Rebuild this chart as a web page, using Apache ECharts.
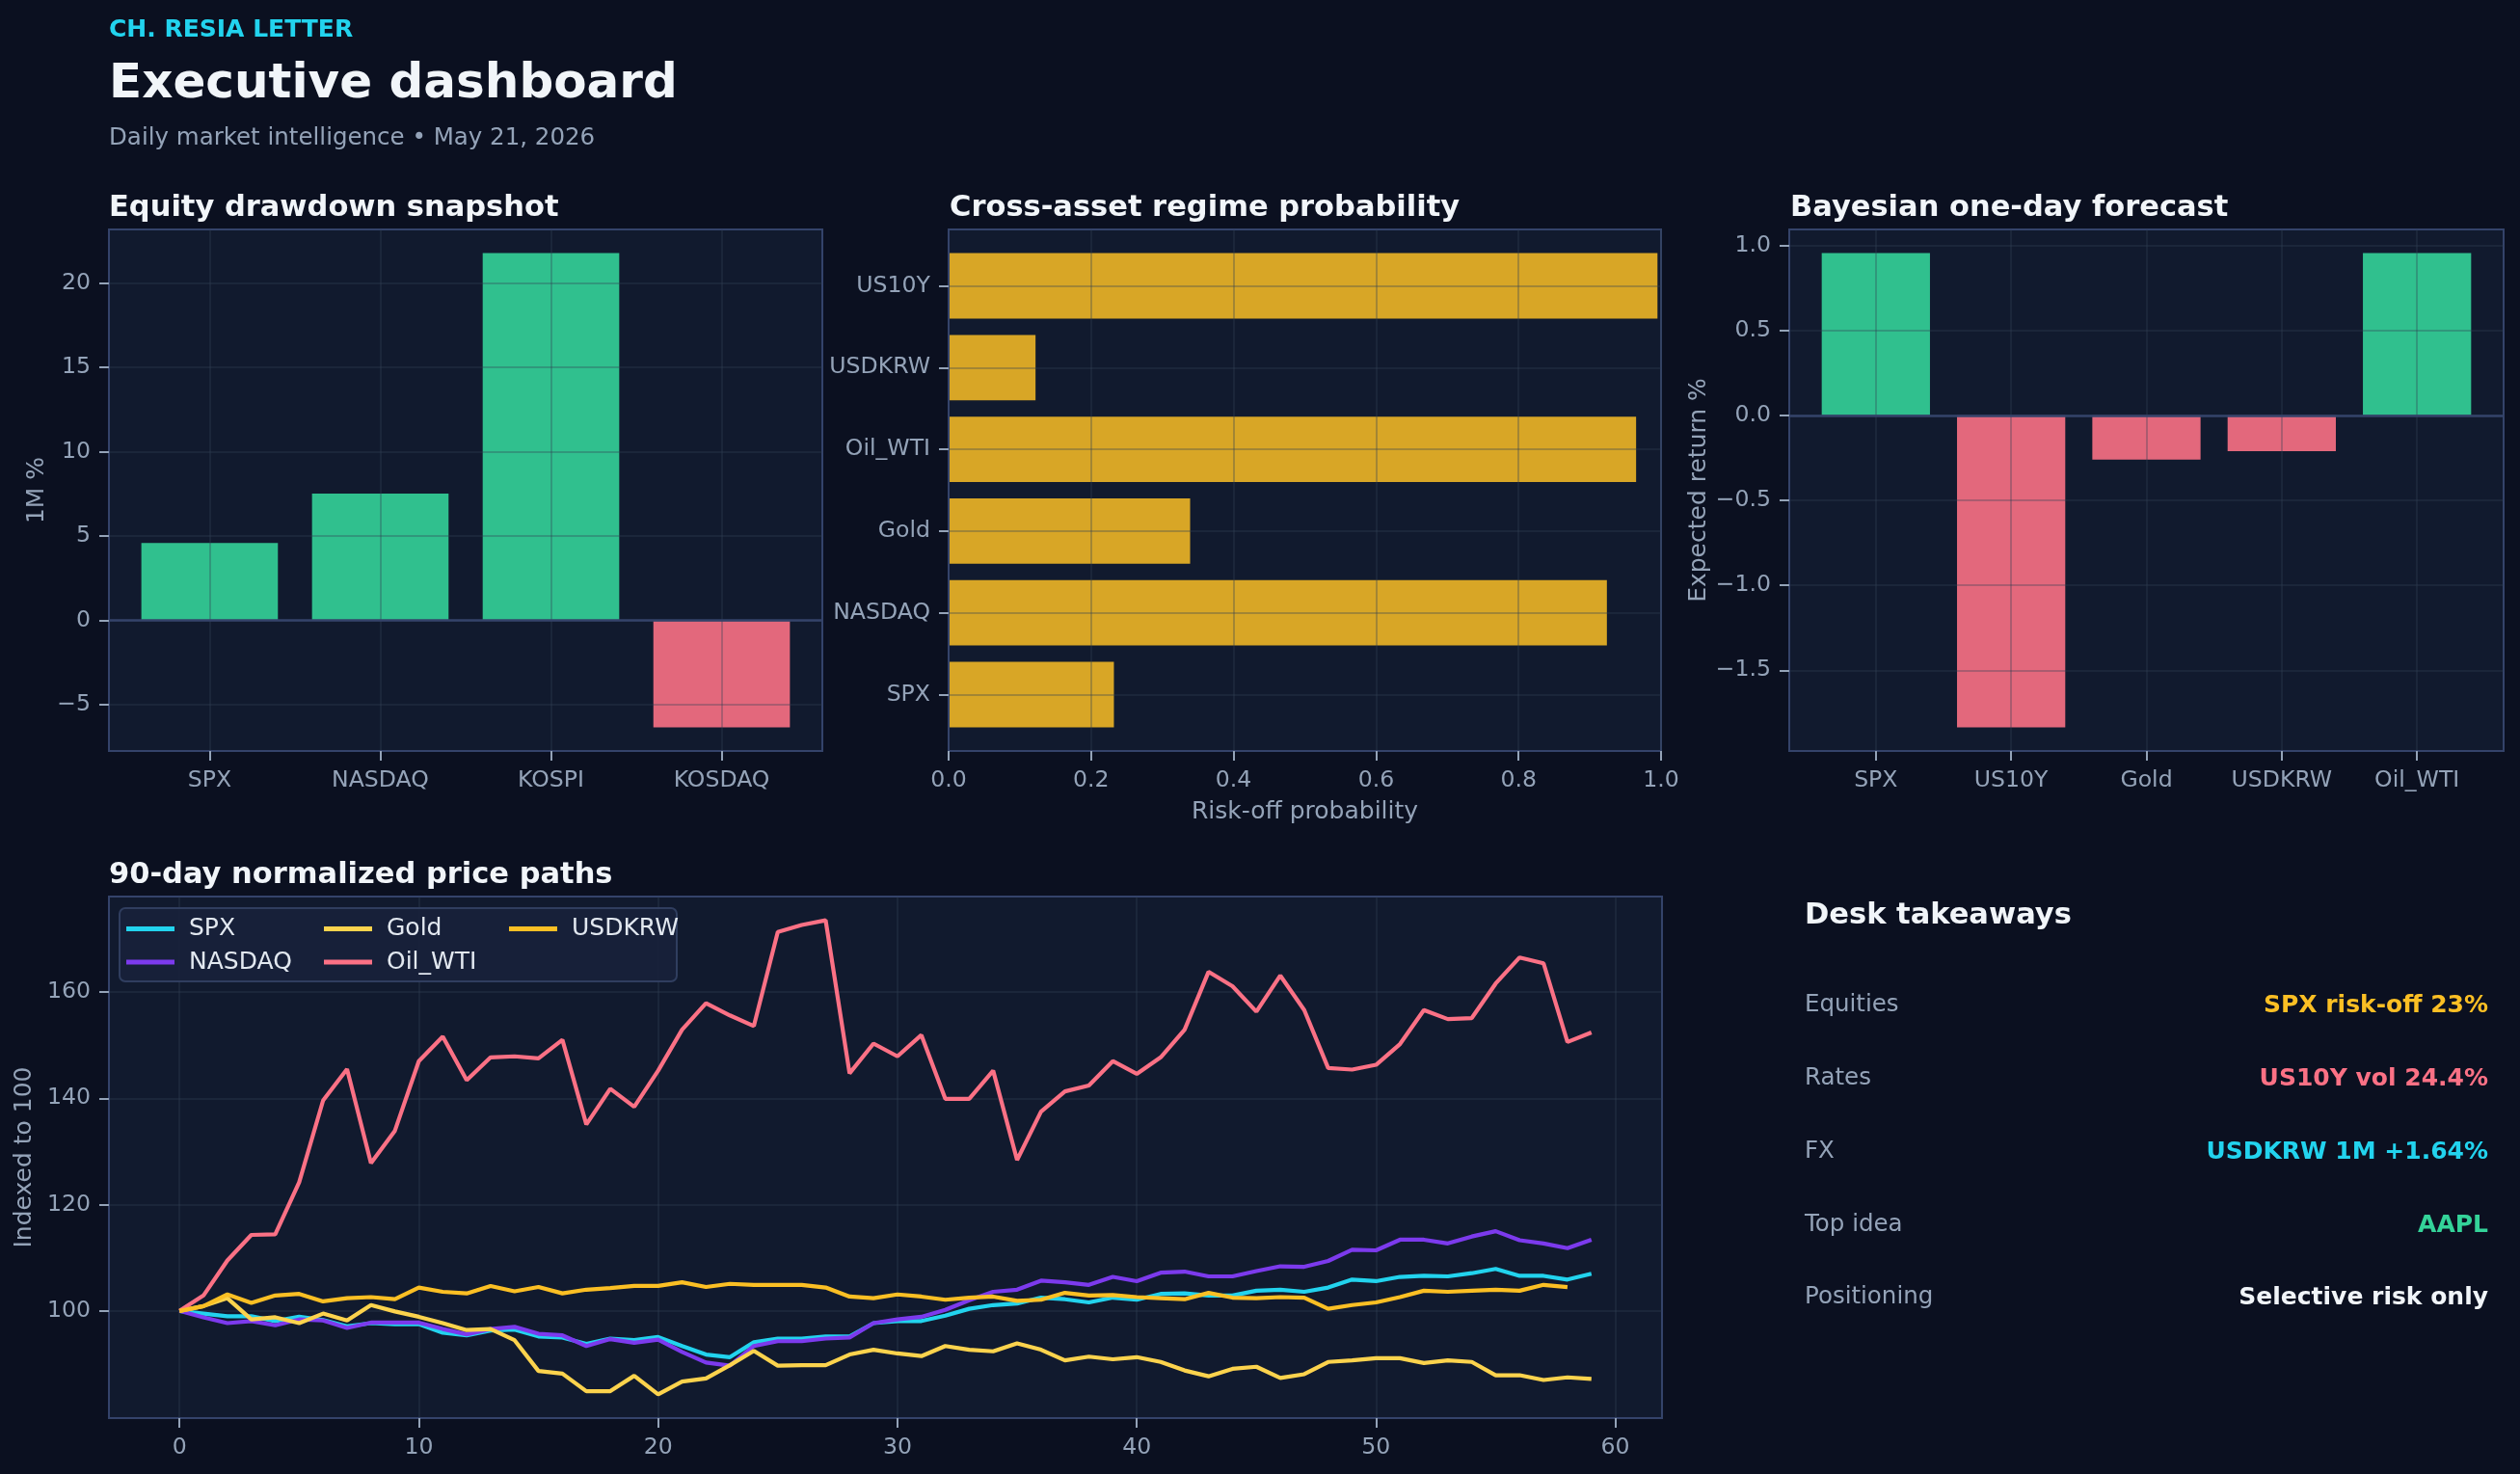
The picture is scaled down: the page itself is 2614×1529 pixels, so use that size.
<!DOCTYPE html>
<html>
<head>
<meta charset="utf-8">
<script src="https://cdn.jsdelivr.net/npm/echarts@6/dist/echarts.min.js"></script>
<style>
html,body{margin:0;padding:0;background:#0b1020;}
#chart{width:2614px;height:1529px;}
</style>
</head>
<body>
<div id="chart"></div>
<script>
// ---------- data ----------
const eqCats = ['SPX', 'NASDAQ', 'KOSPI', 'KOSDAQ'];
const eqVals = [4.59, 7.51, 21.78, -6.35];

const regimeCats = ['SPX', 'NASDAQ', 'Gold', 'Oil_WTI', 'USDKRW', 'US10Y'];
const regimeVals = [0.232, 0.924, 0.339, 0.965, 0.122, 0.995];

const fcCats = ['SPX', 'US10Y', 'Gold', 'USDKRW', 'Oil_WTI'];
const fcVals = [0.954, -1.835, -0.261, -0.211, 0.954];

const pathNames = ['SPX', 'NASDAQ', 'Gold', 'Oil_WTI', 'USDKRW'];
const spxPath = [100,99.5,99.0,99.0,98.1,98.9,98.3,97.1,97.7,97.5,97.5,95.9,95.4,96.3,96.5,95.2,95.0,93.8,94.8,94.5,95.1,93.4,91.8,91.3,94.1,94.8,94.8,95.2,95.2,97.7,98.1,98.1,99.1,100.4,101.1,101.4,102.5,102.2,101.6,102.5,102.1,103.2,103.3,102.9,102.9,103.8,104.0,103.6,104.4,105.9,105.6,106.4,106.6,106.5,107.1,107.9,106.6,106.6,105.9,107.0];
const nasdaqPath = [100,98.8,97.7,98.1,97.3,98.4,98.2,96.8,97.8,97.8,97.8,96.6,95.6,96.6,97.0,95.7,95.4,93.4,94.7,94.0,94.6,92.3,90.3,89.7,93.4,94.3,94.3,94.8,95.0,97.7,98.4,98.9,100.2,102.0,103.6,104.0,105.7,105.4,104.9,106.4,105.6,107.2,107.4,106.5,106.5,107.5,108.4,108.3,109.4,111.5,111.4,113.4,113.4,112.7,114.0,115.0,113.3,112.7,111.8,113.4];
const goldPath = [100,100.9,102.4,98.4,98.8,97.7,99.5,98.2,101.1,99.9,98.9,97.7,96.4,96.6,94.5,88.7,88.2,84.9,84.9,87.8,84.3,86.7,87.3,89.8,92.5,89.7,89.8,89.8,91.8,92.7,92.0,91.5,93.4,92.7,92.4,93.9,92.7,90.7,91.4,90.9,91.3,90.4,88.8,87.7,89.1,89.5,87.4,88.1,90.4,90.7,91.1,91.1,90.2,90.7,90.4,87.9,87.9,87.0,87.5,87.2];
const oilPath = [100,102.9,109.5,114.3,114.4,124.2,139.6,145.5,127.8,133.9,147.0,151.6,143.4,147.7,147.9,147.5,151.0,135.1,141.8,138.4,145.2,152.9,157.9,155.6,153.6,171.3,172.6,173.5,144.7,150.3,147.9,151.9,139.9,139.9,145.2,128.4,137.5,141.3,142.4,147.0,144.6,147.7,152.9,163.8,161.1,156.3,163.1,156.6,145.7,145.4,146.3,150.2,156.6,154.9,155.1,161.6,166.5,165.4,150.6,152.4];
const usdkrwPath = [100,100.9,103.1,101.5,102.9,103.2,101.8,102.4,102.6,102.2,104.4,103.6,103.3,104.7,103.7,104.5,103.3,104.0,104.3,104.7,104.7,105.4,104.5,105.1,104.9,104.9,104.9,104.4,102.7,102.4,103.1,102.7,102.1,102.5,102.7,101.9,102.1,103.4,102.9,103.0,102.6,102.4,102.2,103.4,102.5,102.4,102.6,102.5,100.4,101.1,101.6,102.6,103.8,103.6,103.8,104.0,103.8,104.9,104.5];

const eqTicks = [-5, 0, 5, 10, 15, 20];
const fcTicks = [-1.5, -1.0, -0.5, 0, 0.5, 1.0];
const probTicks = [0, 0.2, 0.4, 0.6, 0.8, 1.0];
const pathXTicks = [0, 10, 20, 30, 40, 50, 60];
const pathYTicks = [100, 120, 140, 160];

const takeLabels = ['Equities', 'Rates', 'FX', 'Top idea', 'Positioning'];
const takeValues = ['SPX risk-off 23%', 'US10Y vol 24.4%', 'USDKRW 1M +1.64%', 'AAPL', 'Selective risk only'];

// ---------- style ----------
const FONT = 'DejaVu Sans';
const BG = '#0b1020';
const PLOT_BG = '#111a2e';
const BORDER = '#34436a';
const GRID = 'rgba(51,65,85,0.32)';
const TICK = '#94a3b8';
const TITLE = '#f1f5f9';
const GREEN = 'rgba(52,211,153,0.9)';
const RED = 'rgba(251,113,133,0.9)';
const GOLDBAR = 'rgba(251,191,36,0.85)';
const lineColors = ['#22d3ee', '#7c3aed', '#fcd34d', '#fb7185', '#fbbf24'];
const takeColors = ['#fbbf24', '#fb7185', '#22d3ee', '#34d399', '#f1f5f9'];

const minus = s => s.replace('-', '\u2212');
const tickFont = {color: TICK, fontSize: 23.6, fontFamily: FONT};
const nameFont = {color: TICK, fontSize: 25, fontFamily: FONT};

function pad(vals, lo, hi) {
  const mn = Math.min(lo, ...vals), mx = Math.max(hi, ...vals);
  const s = (mx - mn) * 0.05;
  return [mn - s, mx + s];
}

function valueAxis(idx, min, max, ticks, fmt, extra) {
  return Object.assign({
    type: 'value', gridIndex: idx, min: min, max: max, z: 3,
    axisLine: {show: true, onZero: false, lineStyle: {color: BORDER, width: 2}},
    axisTick: {show: true, inside: false, length: 10, customValues: ticks, lineStyle: {color: TICK, width: 2}},
    axisLabel: Object.assign({customValues: ticks, margin: 19, formatter: fmt}, tickFont),
    splitLine: {show: true, lineStyle: {color: GRID, width: 2}}
  }, extra || {});
}

function vbarRender(params, api) {
  const x = api.value(0), y = api.value(1);
  const p0 = api.coord([x - 0.4, 0]);
  const p1 = api.coord([x + 0.4, y]);
  return {
    type: 'rect',
    shape: {x: p0[0], y: Math.min(p0[1], p1[1]), width: p1[0] - p0[0], height: Math.abs(p1[1] - p0[1])},
    style: {fill: y >= 0 ? GREEN : RED}
  };
}
function hbarRender(params, api) {
  const v = api.value(0), y = api.value(1);
  const p0 = api.coord([0, y - 0.4]);
  const p1 = api.coord([v, y + 0.4]);
  return {
    type: 'rect',
    shape: {x: p0[0], y: p1[1], width: p1[0] - p0[0], height: p0[1] - p1[1]},
    style: {fill: GOLDBAR}
  };
}

const eqRange = pad(eqVals, 0, 0);
const fcRange = pad(fcVals, 0, 0);
const allPaths = [spxPath, nasdaqPath, goldPath, oilPath, usdkrwPath];
const flat = [].concat(...allPaths);
const pathRange = pad(flat, Infinity, -Infinity);

const grids = [
  {left: 113, top: 238, width: 740, height: 541},
  {left: 984, top: 238, width: 739, height: 541},
  {left: 1856, top: 238, width: 741, height: 541},
  {left: 113, top: 930, width: 1611, height: 541}
].map(g => Object.assign(g, {show: true, backgroundColor: PLOT_BG, borderColor: BORDER, borderWidth: 2}));

const yLabelPad = {padding: [3, 0, 0, 0]};
const xAxes = [
  valueAxis(0, -0.59, eqCats.length - 1 + 0.59, eqCats.map((c, i) => i), v => eqCats[Math.round(v)]),
  valueAxis(1, 0, 1, probTicks, v => v.toFixed(1),
    {name: 'Risk-off probability', nameLocation: 'middle', nameGap: 51, nameTextStyle: nameFont}),
  valueAxis(2, -0.64, fcCats.length - 1 + 0.64, fcCats.map((c, i) => i), v => fcCats[Math.round(v)]),
  valueAxis(3, -2.95, 61.95, pathXTicks, v => String(v))
];
const yAxes = [
  valueAxis(0, eqRange[0], eqRange[1], eqTicks, v => minus(String(v)),
    {name: '1M %', nameLocation: 'middle', nameGap: 62, nameTextStyle: nameFont}),
  valueAxis(1, -0.69, regimeCats.length - 1 + 0.69, regimeCats.map((c, i) => i), v => regimeCats[Math.round(v)]),
  valueAxis(2, fcRange[0], fcRange[1], fcTicks, v => minus(v.toFixed(1)),
    {name: 'Expected return %', nameLocation: 'middle', nameGap: 81, nameTextStyle: nameFont}),
  valueAxis(3, pathRange[0], pathRange[1], pathYTicks, v => String(v),
    {name: 'Indexed to 100', nameLocation: 'middle', nameGap: 65, nameTextStyle: nameFont})
];
yAxes.forEach(a => Object.assign(a.axisLabel, yLabelPad));
xAxes[3].z = 0; yAxes[3].z = 0;

const zeroLine = idx => ({
  type: 'line', xAxisIndex: idx, yAxisIndex: idx, data: [], z: 5,
  markLine: {silent: true, symbol: 'none', label: {show: false}, z: 5,
    lineStyle: {color: BORDER, width: 2.5, type: 'solid'}, data: [{yAxis: 0}]}
});

const series = [
  {type: 'custom', name: 'eq', xAxisIndex: 0, yAxisIndex: 0, renderItem: vbarRender,
   data: eqVals.map((v, i) => [i, v]), encode: {x: 0, y: 1}},
  zeroLine(0),
  {type: 'custom', name: 'regime', xAxisIndex: 1, yAxisIndex: 1, renderItem: hbarRender,
   data: regimeVals.map((v, i) => [v, i]), encode: {x: 0, y: 1}},
  {type: 'custom', name: 'fc', xAxisIndex: 2, yAxisIndex: 2, renderItem: vbarRender,
   data: fcVals.map((v, i) => [i, v]), encode: {x: 0, y: 1}},
  zeroLine(2)
];
allPaths.forEach((p, k) => {
  series.push({
    type: 'line', name: pathNames[k], xAxisIndex: 3, yAxisIndex: 3,
    data: p.map((v, i) => [i, v]), showSymbol: false, symbol: 'none',
    lineStyle: {color: lineColors[k], width: 4.2}, itemStyle: {color: lineColors[k]},
    z: 2 + k * 0.01, animation: false
  });
});

const legendBase = {
  orient: 'vertical', top: 951, itemWidth: 50, itemHeight: 5, itemGap: 9.5, icon: 'rect',
  selectedMode: false, padding: 0,
  textStyle: {color: '#e2e8f0', fontSize: 25, fontFamily: FONT, lineHeight: 25, padding: [0, 0, 0, 10]}
};
const legends = [
  Object.assign({}, legendBase, {left: 131, data: ['SPX', 'NASDAQ']}),
  Object.assign({}, legendBase, {left: 336, data: ['Gold', 'Oil_WTI']}),
  Object.assign({}, legendBase, {left: 528, data: ['USDKRW']})
];

function txt(text, x, y, size, color, weight, align) {
  return {type: 'text', x: x, y: y + 3, z: 10, silent: true,
    style: {text: text, fill: color, font: (weight || 'normal') + ' ' + size + 'px "' + FONT + '"',
      align: align || 'left', verticalAlign: 'middle'}};
}
const graphics = [
  {type: 'rect', z: 3, silent: true, shape: {x: 124, y: 942, width: 578, height: 76, r: 6},
   style: {fill: 'rgba(24,33,58,0.95)', stroke: 'rgba(51,65,100,0.9)', lineWidth: 2}},
  txt('CH. RESIA LETTER', 113, 28, 25, '#22d3ee', 'bold'),
  txt('Executive dashboard', 113, 85, 50, TITLE, 'bold'),
  txt('Daily market intelligence \u2022 May 21, 2026', 113, 141, 24.5, TICK),
  txt('Equity drawdown snapshot', 113, 213, 30.5, TITLE, 'bold'),
  txt('Cross-asset regime probability', 985, 213, 30.5, TITLE, 'bold'),
  txt('Bayesian one-day forecast', 1857, 213, 30.5, TITLE, 'bold'),
  txt('90-day normalized price paths', 113, 905, 30.5, TITLE, 'bold'),
  txt('Desk takeaways', 1872, 947, 30.5, TITLE, 'bold')
];
const rowY = [1040, 1116, 1192, 1268, 1343];
takeLabels.forEach((l, i) => {
  graphics.push(txt(l, 1872, rowY[i], 24.5, TICK));
  graphics.push(txt(takeValues[i], 2581, rowY[i], 25, takeColors[i], 'bold', 'right'));
});

const chart = echarts.init(document.getElementById('chart'), null, {renderer: 'canvas'});
chart.setOption({
  backgroundColor: BG,
  animation: false,
  textStyle: {fontFamily: FONT},
  grid: grids,
  xAxis: xAxes,
  yAxis: yAxes,
  legend: legends,
  series: series,
  graphic: graphics
});
</script>
</body>
</html>
